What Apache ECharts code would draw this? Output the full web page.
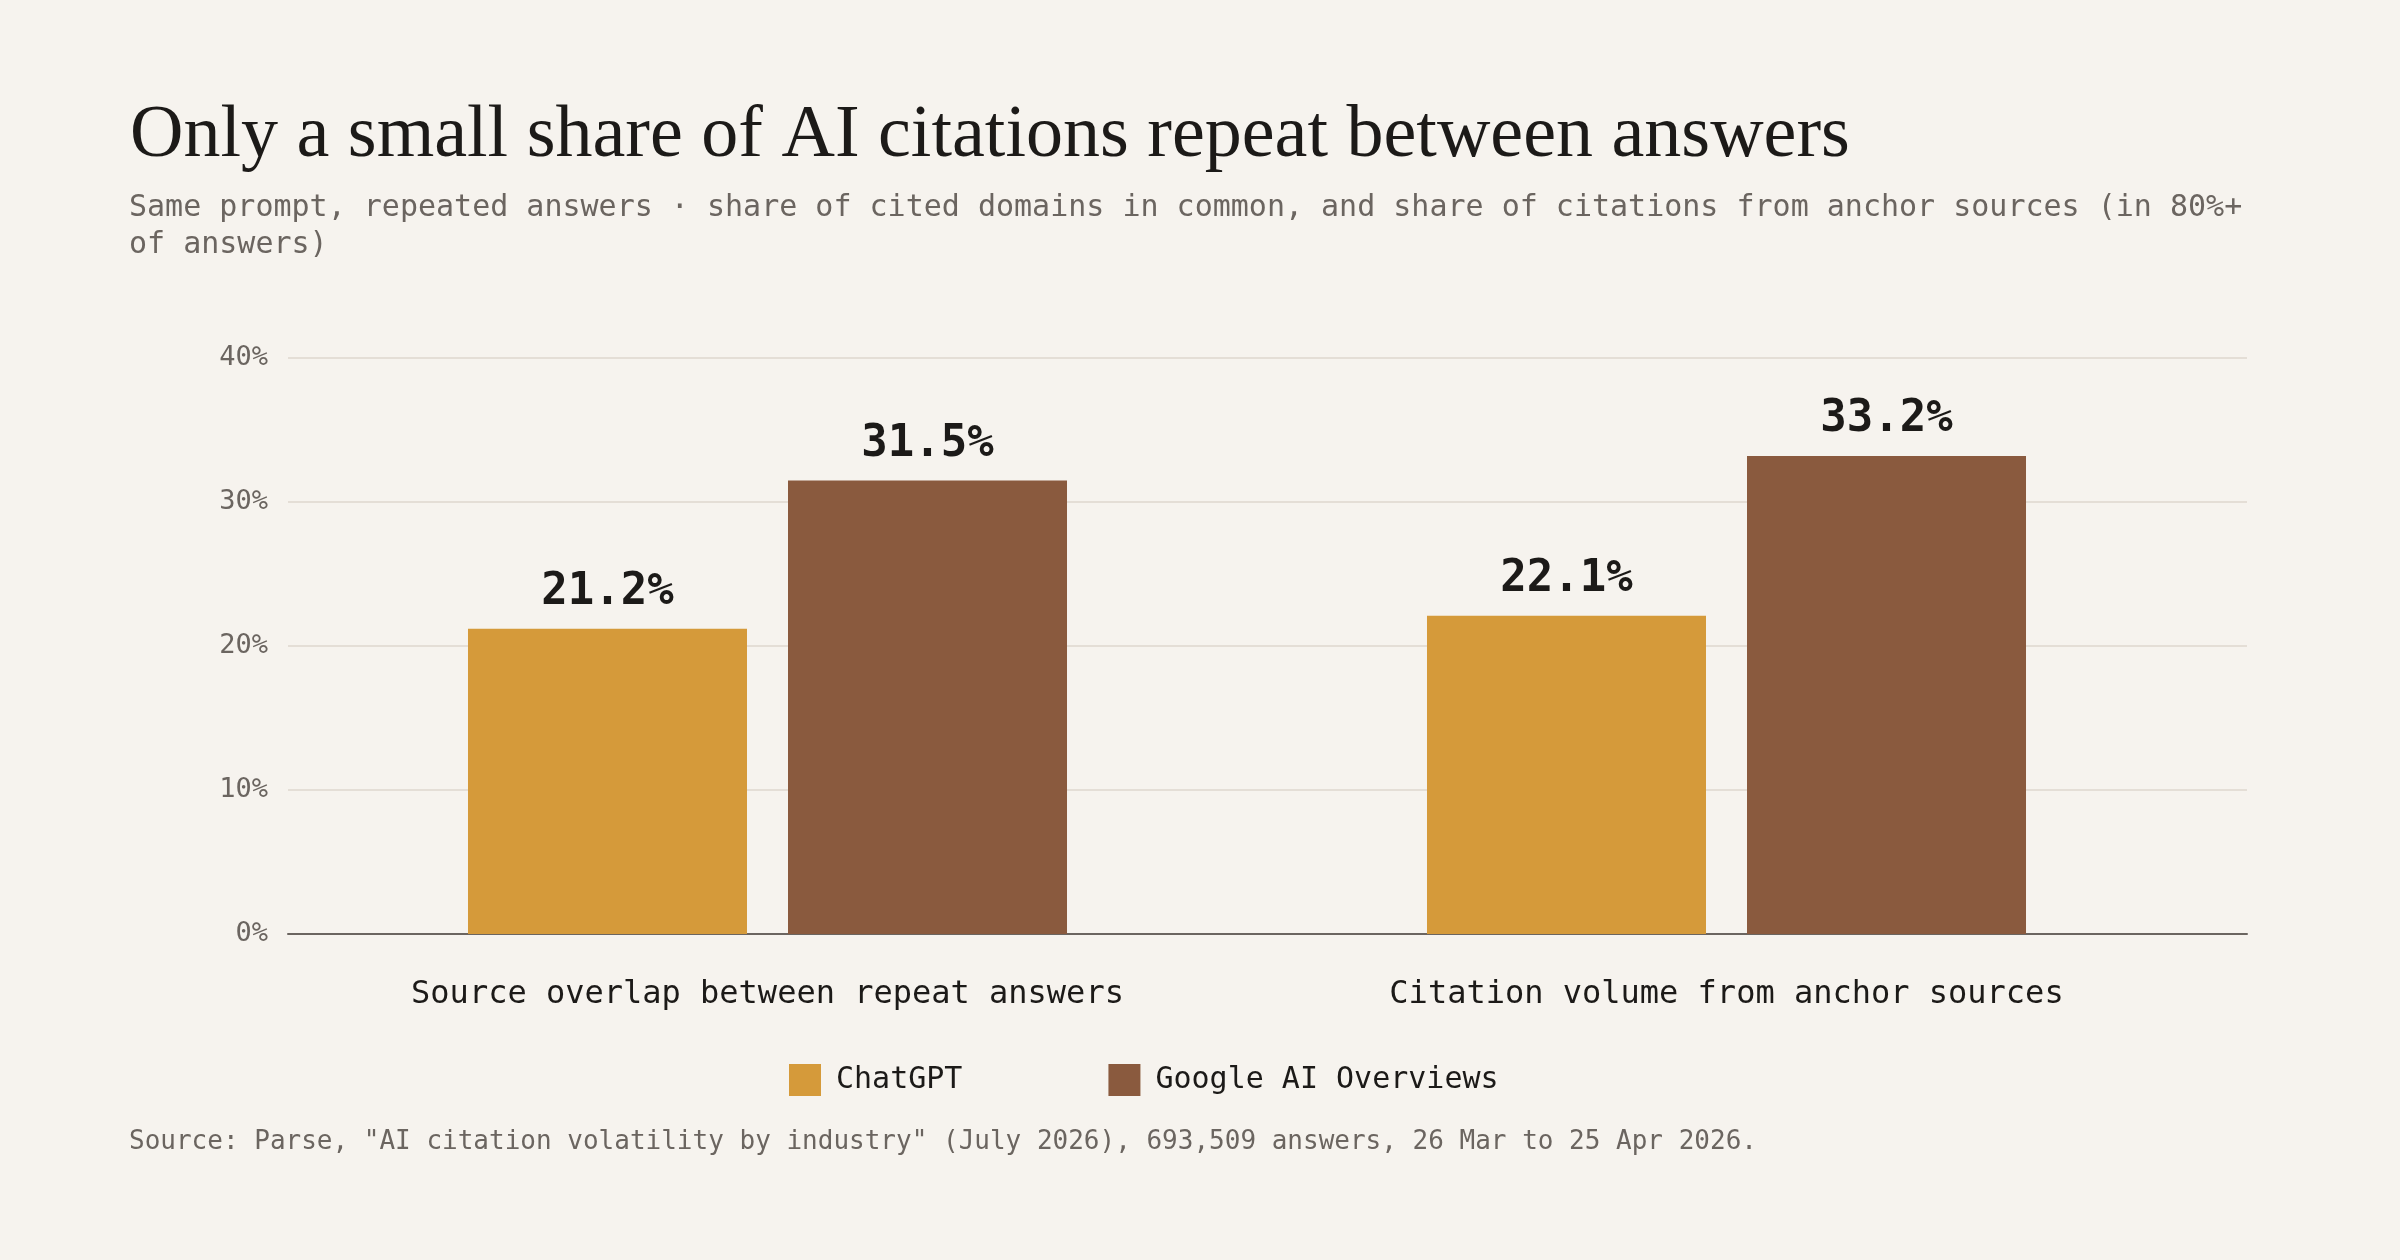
<!DOCTYPE html>
<html>
<head>
<meta charset="utf-8">
<script src="https://cdn.jsdelivr.net/npm/echarts@6/dist/echarts.min.js"></script>
<style>
  html, body { margin: 0; padding: 0; background: #f6f3ee; }
  #chart { width: 2400px; height: 1260px; }
</style>
</head>
<body>
<div id="chart"></div>
<script>
var categories = ['Source overlap between repeat answers', 'Citation volume from anchor sources'];
var chatgpt = [21.2, 22.1];
var google = [31.5, 33.2];
var yTicks = [0, 10, 20, 30, 40];

var mono = '"DejaVu Sans Mono", monospace';
var gray = '#6b6560';
var dark = '#1c1a18';

var myChart = echarts.init(document.getElementById('chart'));
var barLabel = { show: true, position: 'top', distance: 14, fontFamily: mono, fontWeight: 'bold', fontSize: 44, color: dark, formatter: '{c}%' };
var option = {
  backgroundColor: '#f6f3ee',
  animation: false,
  title: [
    {
      text: 'Only a small share of AI citations repeat between answers',
      left: 125,
      top: 95,
      textStyle: { fontFamily: '"Liberation Serif", serif', fontWeight: 'normal', fontSize: 74, color: dark }
    },
    {
      text: 'Same prompt, repeated answers · share of cited domains in common, and share of citations from anchor sources (in 80%+\nof answers)',
      left: 124,
      top: 185,
      textStyle: { fontFamily: mono, fontWeight: 'normal', fontSize: 30, lineHeight: 37, color: gray }
    },
    {
      text: 'Source: Parse, "AI citation volatility by industry" (July 2026), 693,509 answers, 26 Mar to 25 Apr 2026.',
      left: 124,
      top: 1124,
      textStyle: { fontFamily: mono, fontWeight: 'normal', fontSize: 26, color: gray }
    }
  ],
  legend: {
    data: ['ChatGPT', 'Google AI Overviews'],
    left: 784,
    top: 1059,
    icon: 'rect',
    itemWidth: 32,
    itemHeight: 32,
    itemGap: 146,
    textStyle: { fontFamily: mono, fontSize: 30, color: dark, padding: [0, 0, 0, 10] }
  },
  grid: [
    { left: 288, right: 153, top: 358, bottom: 326 },
    { left: 288, right: 194, top: 358, bottom: 326 }
  ],
  xAxis: [
    {
      type: 'category',
      gridIndex: 0,
      data: [''],
      axisLine: { lineStyle: { color: gray, width: 2 } },
      axisTick: { show: false },
      axisLabel: { show: false }
    },
    {
      type: 'category',
      gridIndex: 1,
      data: categories,
      axisLine: { show: false },
      axisTick: { show: false },
      axisLabel: { fontFamily: mono, fontSize: 32, color: dark, margin: 45 }
    }
  ],
  yAxis: [
    {
      type: 'value',
      gridIndex: 0,
      min: yTicks[0],
      max: yTicks[yTicks.length - 1],
      interval: 10,
      axisLine: { show: false },
      axisTick: { show: false },
      splitLine: { lineStyle: { color: '#e4ded6', width: 2 } },
      axisLabel: { fontFamily: mono, fontSize: 27, color: gray, margin: 20, formatter: '{value}%' }
    },
    {
      type: 'value',
      gridIndex: 1,
      min: yTicks[0],
      max: yTicks[yTicks.length - 1],
      interval: 10,
      show: false
    }
  ],
  series: [
    {
      name: 'ChatGPT',
      type: 'bar',
      xAxisIndex: 1,
      yAxisIndex: 1,
      data: chatgpt,
      barWidth: 279,
      barGap: '14.7%',
      z: 3,
      itemStyle: { color: '#d59a3a' },
      label: barLabel
    },
    {
      name: 'Google AI Overviews',
      type: 'bar',
      xAxisIndex: 1,
      yAxisIndex: 1,
      data: google,
      barWidth: 279,
      barGap: '14.7%',
      z: 3,
      itemStyle: { color: '#8a5a3e' },
      label: barLabel
    }
  ]
};
myChart.setOption(option);
</script>
</body>
</html>
